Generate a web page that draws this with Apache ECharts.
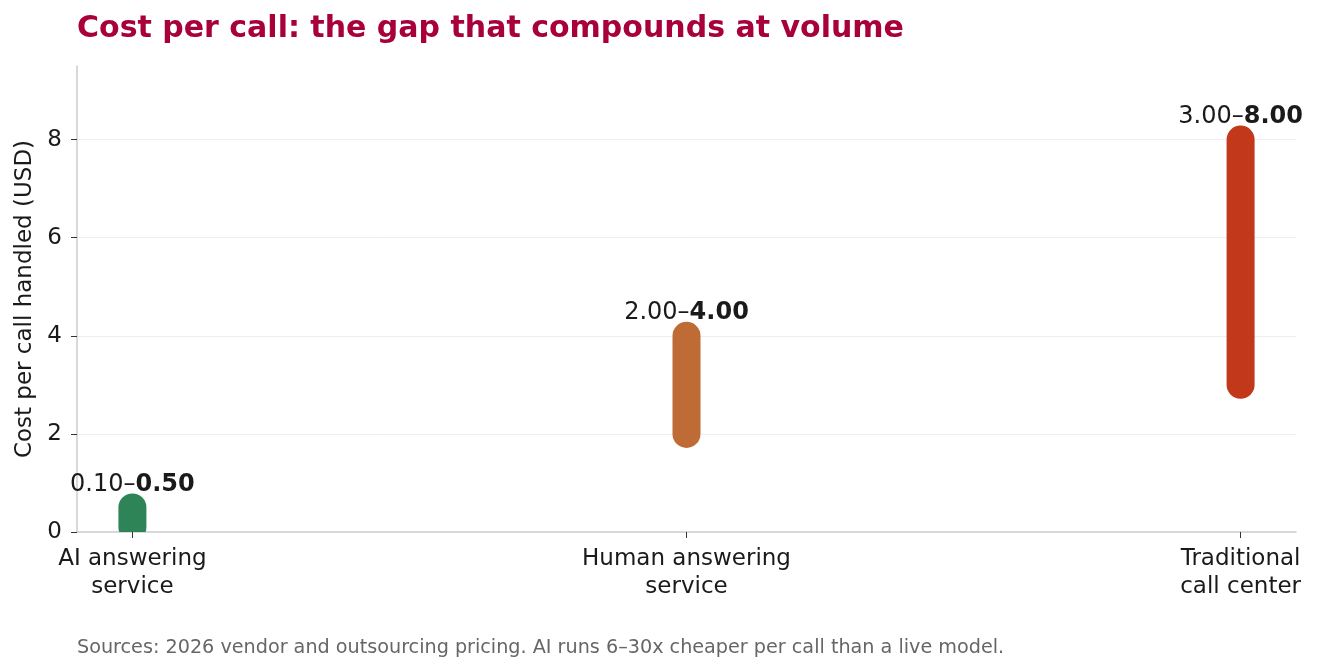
<!DOCTYPE html>
<html>
<head>
<meta charset="utf-8">
<script src="https://cdn.jsdelivr.net/npm/echarts@6/dist/echarts.min.js"></script>
<style>
  html, body { margin: 0; padding: 0; background: #fff; }
  #chart { width: 1318px; height: 672px; }
</style>
</head>
<body>
<div id="chart"></div>
<script>
const categories = ['AI answering\nservice', 'Human answering\nservice', 'Traditional\ncall center'];
const lowValues = [0.10, 2.00, 3.00];
const highValues = [0.50, 4.00, 8.00];
const barColors = ['#2e8456', '#bf6b36', '#c1381b'];
const yTicks = [0, 2, 4, 6, 8];

document.addEventListener('DOMContentLoaded', function () {
    const chart = echarts.init(document.getElementById('chart'));
    const font = 'DejaVu Sans';

    const data = categories.map((c, i) => [i, lowValues[i], highValues[i]]);

    const option = {
        animation: false,
        textStyle: { fontFamily: font },
        title: {
            text: 'Cost per call: the gap that compounds at volume',
            left: 72,
            top: 9,
            textStyle: { color: '#a8003b', fontSize: 30, fontWeight: 'bold', fontFamily: font }
        },
        graphic: [{
            type: 'text',
            left: 77,
            top: 639,
            style: {
                text: 'Sources: 2026 vendor and outsourcing pricing. AI runs 6–30x cheaper per call than a live model.',
                fill: '#666',
                font: '19.2px "DejaVu Sans"'
            }
        }],
        grid: { left: 77, right: 22, top: 66, bottom: 140, outerBoundsMode: 'none' },
        xAxis: {
            type: 'value',
            min: -0.1,
            max: 2.1,
            splitLine: { show: false },
            axisLine: { show: true, onZero: false, lineStyle: { color: '#cccccc', width: 1.5 } },
            axisTick: { show: true, customValues: [0, 1, 2], length: 6, lineStyle: { color: '#333' } },
            axisLabel: {
                customValues: [0, 1, 2],
                formatter: v => categories[Math.round(v)],
                color: '#1a1a1a',
                fontSize: 23,
                lineHeight: 28,
                margin: 13
            }
        },
        yAxis: {
            type: 'value',
            min: 0,
            max: 9.5,
            name: 'Cost per call handled (USD)',
            nameLocation: 'middle',
            nameGap: 40,
            nameTextStyle: { color: '#1a1a1a', fontSize: 23 },
            axisLine: { show: true, onZero: false, lineStyle: { color: '#cccccc', width: 1.5 } },
            axisTick: { show: true, customValues: yTicks, length: 6, lineStyle: { color: '#333' } },
            axisLabel: { customValues: yTicks, color: '#1a1a1a', fontSize: 23, margin: 15, padding: [3, 0, 0, 0] },
            splitLine: { show: true, showMinLine: false, lineStyle: { color: '#eeeeee' } }
        },
        series: [{
            type: 'custom',
            clip: true,
            data: data,
            renderItem: function (params, api) {
                const i = api.value(0);
                const lo = api.coord([i, api.value(1)]);
                const hi = api.coord([i, api.value(2)]);
                return {
                    type: 'line',
                    shape: { x1: lo[0], y1: lo[1], x2: hi[0], y2: hi[1] },
                    style: { stroke: barColors[i], lineWidth: 28, lineCap: 'round' }
                };
            },
            z: 2
        }, {
            type: 'scatter',
            symbolSize: 0,
            itemStyle: { opacity: 1 },
            data: data.map(d => [d[0], d[2], d[1]]),
            label: {
                show: true,
                position: 'top',
                distance: 11,
                opacity: 1,
                color: '#1a1a1a',
                formatter: p => '{a|' + lowValues[p.dataIndex].toFixed(2) + '–}{b|' + highValues[p.dataIndex].toFixed(2) + '}',
                rich: {
                    a: { fontSize: 24, color: '#1a1a1a', fontFamily: font },
                    b: { fontWeight: 'bold', fontSize: 24, color: '#1a1a1a', fontFamily: font }
                }
            },
            emphasis: { disabled: true },
            z: 3
        }]
    };

    chart.setOption(option);
});
</script>
</body>
</html>
